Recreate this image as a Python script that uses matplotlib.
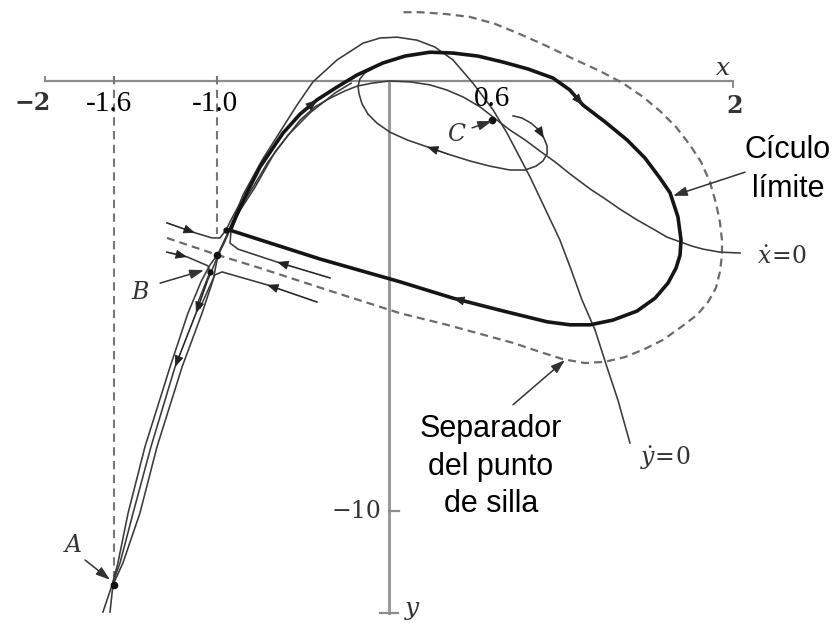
import numpy as np
import matplotlib.pyplot as plt

plt.rcParams['mathtext.fontset'] = 'dejavuserif'

# nullcline ydot = 0 (from below A, over the top, down to the label)
ydot_x = [-1.663, -1.610, -1.576, -1.517, -1.419, -1.273, -1.169, -1.093, -1.041, -0.994,
          -0.948, -0.901, -0.849, -0.738, -0.616, -0.535, -0.442, -0.302, -0.151, -0.052,
          0.047, 0.163, 0.267, 0.372, 0.488, 0.605, 0.686, 0.820, 0.994, 1.060, 1.122,
          1.198, 1.267, 1.331, 1.401]
ydot_y = [-12.35, -11.72, -11.21, -10.05, -8.51, -6.65, -5.40, -4.67, -4.28, -4.02,
          -3.63, -3.19, -2.65, -1.84, -1.07, -0.56, -0.02, 0.49, 0.88, 1.00,
          1.02, 0.95, 0.79, 0.49, -0.05, -0.67, -1.21, -2.23, -3.70, -4.40, -5.09,
          -5.79, -6.65, -7.42, -8.42]

# nullcline xdot = 0
xdot_x = [-1.622, -1.605, -1.547, -1.448, -1.349, -1.203, -1.087, -1.023, -0.994, -0.948,
          -0.884, -0.779, -0.663, -0.517, -0.430, -0.343, -0.256, -0.186, -0.099, 0.0,
          0.122, 0.238, 0.337, 0.430, 0.529, 0.628, 0.703, 0.791, 0.878, 0.965,
          1.052, 1.169, 1.256, 1.343, 1.442, 1.535, 1.616, 1.692, 1.762, 1.826,
          1.924, 2.041]
xdot_y = [-12.35, -11.72, -11.21, -10.05, -8.51, -6.65, -5.40, -4.63, -4.05, -3.65,
          -3.12, -2.47, -1.65, -0.91, -0.60, -0.40, -0.23, -0.12, -0.05, 0.0,
          -0.02, -0.09, -0.21, -0.37, -0.60, -0.91, -1.14, -1.37, -1.63, -1.88,
          -2.16, -2.51, -2.74, -2.98, -3.23, -3.44, -3.63, -3.74, -3.84, -3.91,
          -3.98, -4.00]

# limit cycle (clockwise on the page)
cyc_x = [-0.924, -0.890, -0.826, -0.750, -0.616, -0.517, -0.419, -0.302, -0.186, -0.035,
         0.093, 0.238, 0.372, 0.517, 0.663, 0.808, 0.953, 1.052, 1.128, 1.256,
         1.384, 1.488, 1.576, 1.634, 1.680, 1.698, 1.692, 1.669, 1.622, 1.547,
         1.442, 1.302, 1.169, 1.052, 0.919, 0.645, 0.372, 0.064, -0.401, -0.924]
cyc_y = [-3.47, -3.16, -2.60, -2.00, -1.21, -0.77, -0.44, -0.14, 0.14, 0.42,
         0.58, 0.67, 0.65, 0.58, 0.44, 0.28, 0.07, -0.21, -0.56, -0.95,
         -1.37, -1.79, -2.26, -2.60, -3.16, -3.70, -4.05, -4.35, -4.70, -5.05,
         -5.35, -5.56, -5.67, -5.67, -5.60, -5.33, -5.05, -4.67, -4.14, -3.47]

# unstable manifold of B: upper branch, lower branch (to A)
wu_x = [-0.994, -0.959, -0.913, -0.855, -0.791, -0.703, -0.587, -0.459, -0.314, -0.220]
wu_y = [-4.05, -3.77, -3.35, -2.88, -2.47, -1.88, -1.26, -0.74, -0.28, -0.05]
wl_x = [-0.994, -1.017, -1.058, -1.122, -1.244, -1.384, -1.488, -1.564, -1.610]
wl_y = [-4.05, -4.28, -4.67, -5.40, -6.65, -8.51, -10.05, -11.21, -11.72]

# trajectory spiralling out of C onto the cycle
sp_x = [0.721, 0.773, 0.826, 0.872, 0.901, 0.919, 0.919, 0.895, 0.855, 0.791,
        0.703, 0.587, 0.471, 0.343, 0.221, 0.105, 0.006, -0.070, -0.122, -0.157,
        -0.174, -0.180, -0.169, -0.140, -0.099]
sp_y = [-0.81, -0.86, -0.98, -1.14, -1.33, -1.51, -1.70, -1.86, -1.98, -2.07,
        -2.07, -1.98, -1.86, -1.70, -1.53, -1.37, -1.19, -0.98, -0.77, -0.53,
        -0.30, -0.12, 0.05, 0.19, 0.28]

# saddle separatrix (stable manifold of B)
sep_x = [-1.291, -0.994, -0.750, -0.343, 0.064, 0.337, 0.529, 0.721, 0.878, 1.012,
         1.140, 1.256, 1.372, 1.488, 1.593, 1.692, 1.791, 1.855, 1.901, 1.924,
         1.936, 1.936, 1.924, 1.901, 1.866, 1.814, 1.750, 1.669, 1.576, 1.477,
         1.360, 1.227, 1.064, 0.919, 0.762, 0.616, 0.471, 0.326, 0.180, 0.081]
sep_y = [-3.65, -4.05, -4.35, -4.88, -5.40, -5.67, -5.88, -6.09, -6.30, -6.47,
         -6.56, -6.53, -6.42, -6.23, -6.02, -5.74, -5.44, -5.14, -4.81, -4.44,
         -4.05, -3.70, -3.28, -2.84, -2.35, -1.88, -1.49, -1.07, -0.70, -0.37,
         -0.05, 0.23, 0.53, 0.81, 1.09, 1.33, 1.49, 1.56, 1.60, 1.60]

# trajectories passing close to the saddle
t1_x = [-1.291, -1.128, -1.029, -0.983, -0.948, -0.913, -0.866]
t1_y = [-3.30, -3.53, -3.65, -3.65, -3.47, -3.19, -2.84]
t2_x = [-1.291, -1.174, -1.052, -1.041, -1.070, -1.110]
t2_y = [-3.98, -4.09, -4.30, -4.44, -4.74, -5.14]
t3_x = [-0.343, -0.651, -0.878, -0.924, -0.919, -0.884, -0.837]
t3_y = [-4.58, -4.21, -3.91, -3.77, -3.51, -3.14, -2.72]
t4_x = [-0.419, -0.709, -0.971, -1.012, -1.052, -1.099]
t4_y = [-5.14, -4.74, -4.44, -4.51, -4.86, -5.28]

# equilibria A, B, C
eq_x = [-1.6, -1.0, 0.6]
eq_y = [-11.72, -4.05, -0.91]


def head(ax, xs, ys, i, col='#222222', size=13):
    # small filled arrowhead at vertex i, pointing along the curve
    ax.annotate('', xy=(xs[i], ys[i]), xytext=(xs[i - 1], ys[i - 1]),
                arrowprops=dict(arrowstyle='-|>,head_length=0.55,head_width=0.22',
                                color=col, lw=0.6, shrinkA=0, shrinkB=0,
                                mutation_scale=size))


def pointer(ax, x0, y0, x1, y1):
    ax.annotate('', xy=(x1, y1), xytext=(x0, y0),
                arrowprops=dict(arrowstyle='-|>,head_length=0.6,head_width=0.2',
                                color='#333333', lw=1.1, shrinkA=0, shrinkB=0,
                                mutation_scale=14))


fig = plt.figure(figsize=(8.37, 6.23), dpi=100)
ax = fig.add_axes([0, 0, 1, 1])
ax.set_xlim(-2.2616, 2.6047)
ax.set_ylim(-12.605, 1.884)
ax.axis('off')

thin = '#3a3a3a'

# axes
ax.plot([-2, 2], [0, 0], color='#8c8c8c', lw=1.6)
ax.plot([0, 0], [0, -12.37], color='#9a9a9a', lw=2.2)
ax.plot([-2, -2], [0, 0.1], color='#8c8c8c', lw=1.4)
ax.plot([2, 2], [0, -0.15], color='#8c8c8c', lw=1.4)
ax.plot([0, 0.06], [-10, -10], color='#8c8c8c', lw=1.6)
ax.plot([-0.05, 0.05], [-12.37, -12.37], color='#8c8c8c', lw=1.6)

# dashed guides down to A and B
ax.plot([eq_x[0], eq_x[0]], [0.12, eq_y[0]], color='#777777', lw=1.5, dashes=(4, 2.6))
ax.plot([eq_x[1], eq_x[1]], [0.12, -3.55], color='#777777', lw=1.5, dashes=(4, 2.6))

# separatrix
ax.plot(sep_x, sep_y, color='#6b6b6b', lw=1.6, dashes=(3.6, 2.3))

# nullclines and trajectories
for xs, ys in [(ydot_x, ydot_y), (xdot_x, xdot_y), (wu_x, wu_y), (wl_x, wl_y),
               (sp_x, sp_y), (t1_x, t1_y), (t2_x, t2_y), (t3_x, t3_y), (t4_x, t4_y)]:
    ax.plot(xs, ys, color=thin, lw=1.15, solid_joinstyle='round')

# limit cycle
ax.plot(cyc_x, cyc_y, color='#151515', lw=2.6, solid_joinstyle='round',
        solid_capstyle='round')

# direction arrows
head(ax, cyc_x, cyc_y, 6)
head(ax, cyc_x, cyc_y, 18)
head(ax, cyc_x, cyc_y, 36)
head(ax, sp_x, sp_y, 4)
head(ax, sp_x, sp_y, 14)
head(ax, wl_x, wl_y, 3)
head(ax, wl_x, wl_y, 4)
for xs, ys in [(t1_x, t1_y), (t2_x, t2_y), (t3_x, t3_y), (t4_x, t4_y)]:
    head(ax, xs, ys, 1)

# equilibria and the dark joints near B
ax.plot(eq_x, eq_y, 'o', color='#111111', ms=4.5)
ax.plot([t1_x[4], t2_x[3]], [t1_y[4], t2_y[3]], 'o', color='#111111', ms=3.5)

# tick labels
serif = 'Liberation Serif'
ax.text(-1.628, -0.53, '-1.6', family=serif, fontsize=21, ha='center', va='center')
ax.text(-1.012, -0.53, '-1.0', family=serif, fontsize=21, ha='center', va='center')
ax.text(0.599, -0.42, '0.6', family=serif, fontsize=21, ha='center', va='center')
ax.text(-2.07, -0.51, '−2', family='DejaVu Serif', fontsize=17, ha='center',
        va='center', color='#333333', weight='bold')
ax.text(2.012, -0.58, '2', family='DejaVu Serif', fontsize=17, ha='center',
        va='center', color='#333333', weight='bold')
ax.text(-0.192, -10.02, '−10', family='DejaVu Serif', fontsize=17, ha='center',
        va='center', color='#333333')
ax.text(1.942, 0.30, '$x$', fontsize=18, ha='center', va='center', color='#333333')
ax.text(0.14, -12.30, '$y$', fontsize=18, ha='center', va='center', color='#333333')
ax.text(2.285, -4.09, r'$\dot{x}\!=\!0$', fontsize=17, ha='center', va='center',
        color='#333333')
ax.text(1.61, -8.77, r'$\dot{y}\!=\!0$', fontsize=17, ha='center', va='center',
        color='#333333')

# point names with their pointers
ax.text(-1.837, -10.79, '$A$', fontsize=17, ha='center', va='center', color='#333333')
pointer(ax, -1.767, -11.14, -1.622, -11.60)
ax.text(-1.448, -4.91, '$B$', fontsize=17, ha='center', va='center', color='#333333')
pointer(ax, -1.331, -4.70, -1.076, -4.40)
ax.text(0.395, -1.23, '$C$', fontsize=17, ha='center', va='center', color='#333333')
pointer(ax, 0.483, -1.09, 0.599, -0.93)

# annotations
sans = 'Liberation Sans'
ax.text(2.32, -1.79, 'Cículo', family=sans, fontsize=22, ha='center', va='baseline')
ax.text(2.32, -2.70, 'límite', family=sans, fontsize=22, ha='center', va='baseline')
pointer(ax, 2.070, -2.12, 1.651, -2.67)
ax.text(0.593, -8.28, 'Separador', family=sans, fontsize=22, ha='center', va='baseline')
ax.text(0.593, -9.16, 'del punto', family=sans, fontsize=22, ha='center', va='baseline')
ax.text(0.593, -10.02, 'de silla', family=sans, fontsize=22, ha='center', va='baseline')
pointer(ax, 0.721, -7.53, 1.023, -6.49)

fig.savefig('out.png', dpi=100)
